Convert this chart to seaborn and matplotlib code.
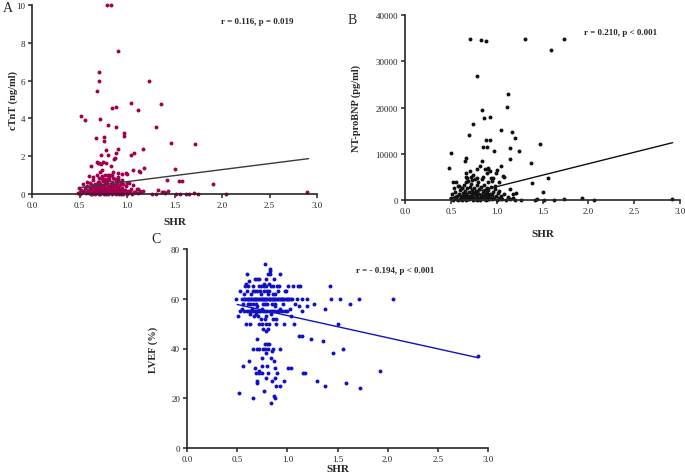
import matplotlib
matplotlib.use('Agg')
import matplotlib.pyplot as plt
import seaborn as sns
import pandas as pd

# ---------------- Panel A: SHR vs cTnT ----------------
shr_a = [
    0.79, 0.835, 0.91, 0.70, 0.71, 0.68, 1.23, 1.04, 0.845, 0.88,
    1.12, 1.36, 0.515, 0.555, 0.72, 0.80, 0.88, 1.30, 0.965, 0.965,
    0.67, 0.76, 0.76, 1.46, 1.72, 0.91, 0.775, 1.17, 0.88, 1.07,
    1.04, 0.727, 0.80, 0.86, 0.68, 0.745, 0.775, 0.62, 0.835, 1.18,
    1.13, 1.06, 1.50, 1.42, 1.55, 1.58, 1.91, 1.33, 1.39, 1.43,
    2.89, 1.26, 1.52, 1.62, 1.71, 2.04, 1.40,
    0.87, 0.69, 0.71, 0.73, 0.74, 0.72, 0.77, 0.80, 0.82, 0.85,
    0.90, 0.95, 0.99, 1.00, 1.14, 0.74, 0.76, 0.78, 0.81, 0.85,
    0.88, 0.91, 0.94, 1.00, 1.12, 1.14, 1.17, 1.37, 1.30, 1.56,
    1.65, 1.75,
    0.48, 0.49, 0.50, 0.51, 0.52, 0.53, 0.54, 0.55, 0.56, 0.57,
    0.58, 0.58, 0.59, 0.60, 0.60, 0.61, 0.61, 0.62, 0.62, 0.63,
    0.63, 0.64, 0.64, 0.65, 0.65, 0.66, 0.66, 0.67, 0.67, 0.68,
    0.68, 0.69, 0.69, 0.70, 0.70, 0.70, 0.71, 0.71, 0.72, 0.72,
    0.73, 0.73, 0.74, 0.74, 0.75, 0.75, 0.76, 0.76, 0.77, 0.77,
    0.78, 0.78, 0.79, 0.79, 0.80, 0.80, 0.81, 0.81, 0.82, 0.82,
    0.83, 0.83, 0.84, 0.84, 0.85, 0.85, 0.86, 0.86, 0.87, 0.87,
    0.88, 0.88, 0.89, 0.89, 0.90, 0.90, 0.91, 0.91, 0.92, 0.93,
    0.93, 0.94, 0.95, 0.95, 0.96, 0.97, 0.98, 0.99, 1.00, 1.01,
    1.02, 1.03, 1.04, 1.05, 1.06, 1.07, 1.08, 1.10, 1.12, 1.15,
    0.62, 0.66, 0.72, 0.76, 0.80, 0.84, 0.88, 0.92, 0.96, 1.00,
    0.58, 0.64, 0.68, 0.74, 0.79, 0.84, 0.90, 0.95, 0.70, 0.77,
]
ctnt = [
    10.0, 10.0, 7.58, 6.47, 5.96, 5.43, 5.96, 4.83, 4.57, 4.60,
    4.44, 4.74, 4.13, 3.90, 3.97, 3.63, 3.56, 3.53, 3.23, 3.09,
    2.95, 3.03, 2.82, 2.72, 2.65, 2.36, 2.31, 2.36, 2.19, 2.15,
    2.08, 2.08, 2.06, 1.83, 1.69, 1.68, 1.64, 1.46, 1.50, 1.38,
    1.20, 1.25, 1.32, 0.72, 0.70, 0.70, 0.53, 0.19, 0.09, 0.18,
    0.12, 0.0, 0.0, 0.0, 0.03, 0.0, 0.03,
    1.89, 1.64, 1.62, 1.57, 1.29, 1.15, 1.02, 1.02, 1.02, 1.15,
    1.09, 1.04, 1.09, 1.04, 1.17, 0.80, 0.77, 0.66, 0.73, 0.83,
    0.71, 0.77, 0.63, 0.60, 0.26, 0.17, 0.17, 0.12, 0.0, 0.0,
    0.0, 0.0,
    0.05, 0.33, 0.12, 0.02, 0.20, 0.08, 0.55, 0.15, 0.30, 0.04,
    0.42, 0.10, 0.22, 0.95, 0.05, 0.35, 0.60, 0.12, 0.28, 0.02,
    0.45, 0.18, 0.75, 0.08, 0.38, 0.25, 0.55, 0.03, 0.15, 0.48,
    0.30, 0.10, 0.65, 0.20, 0.40, 0.02, 0.85, 0.12, 0.33, 0.55,
    0.05, 0.22, 0.45, 0.15, 0.70, 0.28, 0.08, 0.38, 0.18, 0.52,
    0.02, 0.30, 0.60, 0.12, 0.42, 0.22, 0.05, 0.90, 0.35, 0.15,
    0.50, 0.25, 0.08, 0.65, 0.32, 0.18, 0.45, 0.03, 0.22, 0.80,
    0.12, 0.40, 0.28, 0.58, 0.06, 0.35, 0.18, 0.70, 0.25, 0.10,
    0.48, 0.02, 0.30, 0.15, 0.55, 0.08, 0.22, 0.40, 0.05, 0.18,
    0.60, 0.10, 0.28, 0.02, 0.45, 0.12, 0.08, 0.25, 0.03, 0.10,
    0.0, 0.0, 0.0, 0.0, 0.0, 0.0, 0.0, 0.0, 0.0, 0.0,
    0.65, 0.92, 1.00, 0.95, 0.78, 0.98, 0.88, 0.75, 0.62, 0.68,
]
fit_a_x = [0.49, 2.91]
fit_a_y = [0.33, 1.87]

# ---------------- Panel B: SHR vs NT-proBNP ----------------
shr_b = [
    0.71, 0.83, 0.88, 1.31, 1.73, 1.59, 0.78, 1.12, 1.11, 0.84,
    0.93, 0.86, 0.745, 1.05, 1.17, 1.20, 0.70, 0.88, 0.93, 1.47,
    0.85, 0.89, 1.15, 1.24, 0.97, 0.505, 1.15, 1.37, 0.65, 0.66,
    0.48, 1.05, 1.00, 0.90, 0.90, 1.07, 1.56, 1.39, 1.51, 1.73,
    1.93, 2.91, 0.52, 0.556, 1.27, 1.52, 1.63, 2.06, 1.42, 1.44,
    0.67, 0.71, 0.665, 0.78, 0.835, 0.82, 0.87, 0.89, 0.925, 0.745,
    0.73, 0.79, 0.85, 0.96, 0.995, 1.03, 1.08, 0.585, 0.62, 1.14,
    1.18, 1.21, 0.98, 0.94,
    0.50, 0.51, 0.52, 0.53, 0.54, 0.55, 0.56, 0.57, 0.58, 0.58,
    0.59, 0.60, 0.60, 0.61, 0.62, 0.62, 0.63, 0.63, 0.64, 0.64,
    0.65, 0.65, 0.66, 0.66, 0.67, 0.67, 0.68, 0.68, 0.69, 0.69,
    0.70, 0.70, 0.71, 0.71, 0.72, 0.72, 0.73, 0.73, 0.74, 0.74,
    0.75, 0.75, 0.76, 0.76, 0.77, 0.77, 0.78, 0.78, 0.79, 0.79,
    0.80, 0.80, 0.81, 0.81, 0.82, 0.82, 0.83, 0.83, 0.84, 0.84,
    0.85, 0.85, 0.86, 0.86, 0.87, 0.87, 0.88, 0.88, 0.89, 0.89,
    0.90, 0.90, 0.91, 0.91, 0.92, 0.93, 0.93, 0.94, 0.95, 0.95,
    0.96, 0.97, 0.98, 0.99, 1.00, 1.01, 1.02, 1.03, 1.04, 1.05,
    1.06, 1.08, 1.10, 1.12, 1.15, 1.18, 1.20, 0.95, 0.72, 0.68,
]
ntprobnp = [
    34800, 34500, 34300, 34800, 34800, 32400, 26900, 23000, 20200, 19400,
    18000, 17700, 16500, 15100, 14700, 13300, 14000, 12900, 12900, 12100,
    11400, 11400, 11300, 10500, 10700, 10100, 8800, 8100, 8500, 9000,
    7000, 7400, 6400, 6600, 6900, 5200, 4800, 3700, 1700, 150,
    500, 150, 3900, 3900, 0, 0, 100, 0, 100, 200,
    5760, 6190, 4900, 6700, 8500, 7400, 6700, 5900, 6300, 5400,
    4300, 4700, 5000, 4700, 5800, 4000, 5000, 3100, 2700, 2300,
    1300, 1500, 3000, 4800,
    400, 1200, 100, 2500, 600, 1800, 200, 900, 3100, 50,
    1400, 300, 2200, 700, 2700, 100, 1600, 450, 3300, 1000,
    200, 2000, 600, 3800, 1300, 50, 2500, 800, 300, 4200,
    1700, 150, 2900, 900, 400, 3500, 1200, 2100, 100, 600,
    2600, 1500, 300, 4500, 1000, 2000, 50, 3200, 700, 1800,
    250, 3900, 1300, 2400, 500, 100, 2900, 1100, 350, 4600,
    1700, 800, 200, 3300, 1200, 2100, 50, 600, 2700, 1500,
    300, 3800, 900, 2200, 150, 1400, 500, 2900, 1000, 200,
    1800, 400, 2400, 800, 100, 1500, 500, 2000, 200, 900,
    300, 1200, 100, 600, 200, 400, 100, 4200, 5000, 4700,
]
fit_b_x = [0.49, 2.92]
fit_b_y = [360, 12400]

# ---------------- Panel C: SHR vs LVEF ----------------
shr_c = [
    # row at 60
    0.49, 0.55, 0.57, 0.58, 0.595, 0.61, 0.62, 0.635, 0.64, 0.655,
    0.67, 0.675, 0.69, 0.70, 0.715, 0.72, 0.735, 0.745, 0.76, 0.77,
    0.78, 0.79, 0.80, 0.815, 0.825, 0.83, 0.845, 0.86, 0.865, 0.88,
    0.89, 0.905, 0.91, 0.925, 0.935, 0.95, 0.96, 0.97, 0.985, 0.995,
    1.01, 1.02, 1.04, 1.05, 1.10, 1.15, 1.20, 1.44, 1.52, 1.71, 2.05,
    # row at 55
    0.53, 0.57, 0.60, 0.62, 0.64, 0.66, 0.68, 0.70, 0.72, 0.73,
    0.76, 0.78, 0.80, 0.83, 0.85, 0.87, 0.90, 0.92, 0.95, 0.98,
    1.00, 1.15,
    # row at 65
    0.58, 0.61, 0.66, 0.72, 0.74, 0.77, 0.79, 0.84, 0.86, 0.90,
    0.92, 1.01, 1.06, 1.11, 1.13, 1.43,
    # row at 50
    0.59, 0.63, 0.72, 0.75, 0.79, 0.82, 0.89, 0.97, 1.07, 1.50,
    # row at 58
    0.56, 0.61, 0.63, 0.66, 0.69, 0.76, 0.78, 0.80, 0.85, 0.88,
    0.96, 1.08, 1.27, 1.62,
    # rows at 62-63
    0.53, 0.60, 0.66, 0.68, 0.70, 0.73, 0.77, 0.80, 0.82, 0.91,
    0.98, 0.99, 0.57, 0.64, 0.74, 0.81, 0.86, 0.88,
    # rows at 56-57
    0.55, 0.65, 0.70, 0.75, 0.88, 0.93, 1.03, 1.12, 1.20, 1.38,
    # rows at 52-54
    0.51, 0.63, 0.67, 0.69, 0.71, 0.79, 0.84, 1.04, 0.74, 0.78,
    0.86, 0.89,
    # rows at 47-48
    0.76, 0.79, 0.81,
    # rows at 66-74
    0.68, 0.70, 0.72, 0.79, 0.87, 0.77, 0.82, 0.59, 0.62, 0.60,
    0.81, 0.93, 0.83, 0.83, 0.83, 0.78,
    # lower group
    0.70, 0.78, 0.80, 0.82, 0.655, 0.70, 0.72, 0.76, 0.78, 0.81,
    0.86, 0.93, 0.845, 0.79, 0.62, 0.75, 0.84, 0.87, 0.56, 0.68,
    0.75, 0.80, 0.88, 0.69, 0.72, 0.75, 0.81, 0.90, 0.72, 0.79,
    0.88, 0.70, 0.70, 0.845, 0.97, 0.89, 0.93, 0.77, 0.52, 0.66,
    0.87, 0.875, 0.84,
    # outliers
    1.24, 1.36, 1.55, 1.46, 1.92, 1.30, 1.38, 1.58, 1.72, 2.90,
    1.12, 1.15, 1.16, 1.18, 1.01, 1.04,
]
lvef = [
    60, 60, 60, 60, 60, 60, 60, 60, 60, 60,
    60, 60, 60, 60, 60, 60, 60, 60, 60, 60,
    60, 60, 60, 60, 60, 60, 60, 60, 60, 60,
    60, 60, 60, 60, 60, 60, 60, 60, 60, 60,
    60, 60, 60, 60, 60, 60, 60, 60, 60, 60, 60,
    55, 55, 55, 55, 55, 55, 55, 55, 55, 55,
    55, 55, 55, 55, 55, 55, 55, 55, 55, 55,
    55, 55,
    65, 65, 65, 65, 65, 65, 65, 65, 65, 65,
    65, 65, 65, 65, 65, 65,
    50, 50, 50, 50, 50, 50, 50, 50, 50, 50,
    58, 58, 58, 58, 58, 58, 58, 58, 58, 58,
    58, 58, 58, 58,
    63, 63, 63, 63, 63, 63, 63, 63, 63, 63,
    63, 63, 62, 62, 62, 62, 62, 62,
    56, 56, 57, 56, 57, 56, 56, 57, 57, 56,
    53, 54, 53, 54, 53, 53, 54, 53, 52, 52,
    52, 52,
    48, 47, 48,
    68, 68, 68, 68, 68, 66, 66, 66, 67, 70,
    70, 70, 70, 71, 72, 74,
    44, 42, 42, 42, 40, 40, 40, 40, 40, 40,
    40, 40, 39, 38, 35, 36, 36, 35, 33, 32,
    33, 33, 32, 30, 30, 30, 30, 30, 31, 28,
    28, 27, 26, 27, 27, 25, 25, 23, 22, 20,
    21, 20, 18,
    44, 43, 40, 38, 31, 27, 25, 26, 24, 37,
    45, 45, 30, 30, 32, 32,
]
fit_c_x = [0.50, 2.90]
fit_c_y = [57.7, 36.3]

x_ticks = [0.0, 0.5, 1.0, 1.5, 2.0, 2.5, 3.0]

sns.set_theme(style='ticks')
plt.rcParams['font.family'] = ['Liberation Serif', 'DejaVu Serif']
plt.rcParams['axes.linewidth'] = 1.2
plt.rcParams['xtick.major.width'] = 1.1
plt.rcParams['ytick.major.width'] = 1.1
plt.rcParams['xtick.major.size'] = 3
plt.rcParams['ytick.major.size'] = 3


def draw_panel(ax, x, y, fx, fy, color, line_color, ylim, yticks, ylabel,
               note, note_xy, ylabel_x, xlabel_pad):
    df = pd.DataFrame({'SHR': x, 'val': y})
    sns.scatterplot(data=df, x='SHR', y='val', ax=ax, color=color, s=8,
                    marker='o', linewidth=0, clip_on=False)
    sns.lineplot(x=fx, y=fy, ax=ax, color=line_color, linewidth=1.0)
    ax.set_xlim(0, 3)
    ax.set_ylim(*ylim)
    ax.set_xticks(x_ticks)
    ax.set_xticklabels([f'{t:.1f}' for t in x_ticks])
    ax.set_yticks(yticks)
    ax.set_yticklabels([str(t) for t in yticks])
    ax.tick_params(labelsize=6.5, pad=2)
    ax.set_xlabel('SHR', fontsize=8, fontweight='bold', labelpad=xlabel_pad)
    ax.set_ylabel(ylabel, fontsize=7.5, fontweight='bold')
    ax.yaxis.set_label_coords(ylabel_x, 0.5)
    ax.text(note_xy[0], note_xy[1], note, fontsize=6.5, fontweight='bold',
            ha='center', va='center')
    sns.despine(ax=ax)


fig = plt.figure(figsize=(6.85, 4.77), dpi=100)
W, H = 685, 477
ax_a = fig.add_axes([32 / W, 1 - 195 / H, 285 / W, 189 / H])
ax_b = fig.add_axes([405 / W, 1 - 201 / H, 275 / W, 185 / H])
ax_c = fig.add_axes([187 / W, 1 - 449 / H, 301 / W, 199 / H])

draw_panel(ax_a, shr_a, ctnt, fit_a_x, fit_a_y, '#a1004e', '#3a3a3a',
           (0, 10), [0, 2, 4, 6, 8, 10], 'cTnT (ng/ml)',
           'r = 0.116, p = 0.019', (2.37, 9.15), -0.05, 6)
draw_panel(ax_b, shr_b, ntprobnp, fit_b_x, fit_b_y, '#111111', '#111111',
           (0, 40000), [0, 10000, 20000, 30000, 40000], 'NT-proBNP (pg/ml)',
           'r = 0.210, p < 0.001', (2.35, 36300), -0.16, 10)
draw_panel(ax_c, shr_c, lvef, fit_c_x, fit_c_y, '#1212c4', '#1212c4',
           (0, 80), [0, 20, 40, 60, 80], 'LVEF (%)',
           'r = - 0.194, p < 0.001', (2.07, 71.7), -0.096, 1)

fig.text(8 / W, 1 - 9 / H, 'A', fontsize=10, va='center', ha='center')
fig.text(352 / W, 1 - 20 / H, 'B', fontsize=10, va='center', ha='center')
fig.text(156 / W, 1 - 240 / H, 'C', fontsize=10, va='center', ha='center')

fig.savefig('out.png', dpi=100)
